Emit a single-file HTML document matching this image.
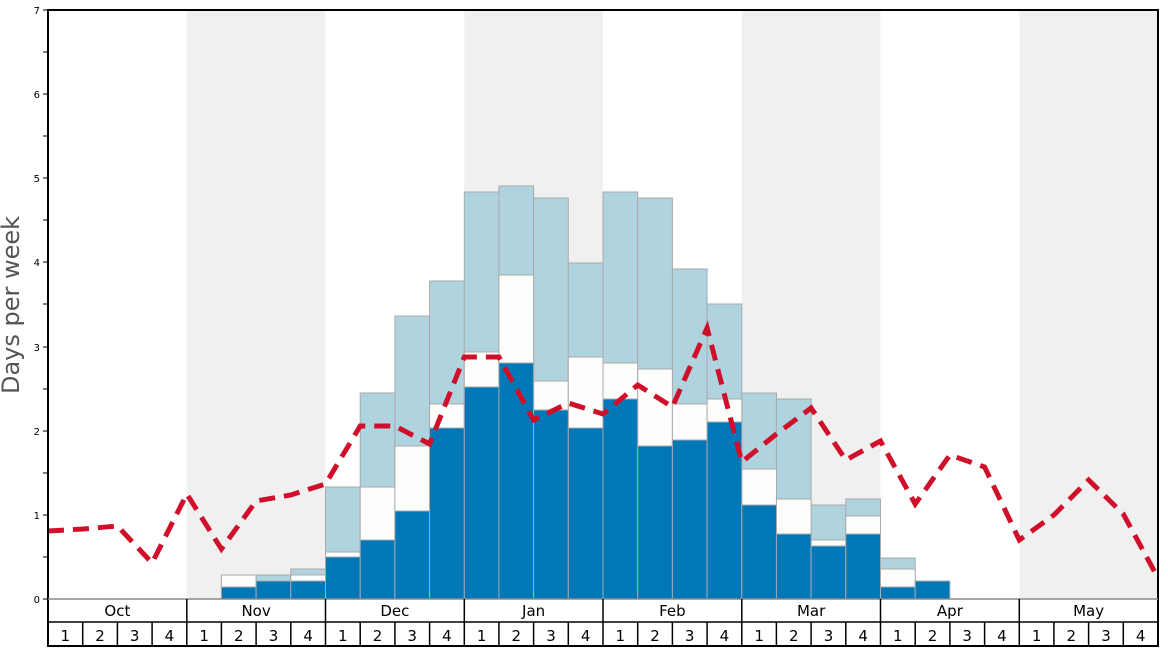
<!DOCTYPE html>
<html><head><meta charset="utf-8"><style>body{margin:0;background:#fff}svg{display:block}text{font-family:"DejaVu Sans","Liberation Sans",sans-serif}</style></head>
<body>
<svg width="1168" height="648" viewBox="0 0 1168 648" xmlns="http://www.w3.org/2000/svg">
<rect x="0" y="0" width="1168" height="648" fill="#fff"/>
<g fill="#f0f0f0">
<rect x="186.8" y="10" width="138.7" height="589"/>
<rect x="464.3" y="10" width="138.7" height="589"/>
<rect x="741.8" y="10" width="138.7" height="589"/>
<rect x="1019.3" y="10" width="138.7" height="589"/>
</g>
<g stroke="#aaa" stroke-width="1">
<g fill="#afd3df">
<rect x="256.1" y="575" width="34.7" height="24"/>
<rect x="290.8" y="569" width="34.7" height="30"/>
<rect x="325.5" y="487" width="34.7" height="112"/>
<rect x="360.2" y="393" width="34.7" height="206"/>
<rect x="394.9" y="316" width="34.7" height="283"/>
<rect x="429.6" y="281" width="34.7" height="318"/>
<rect x="464.3" y="192" width="34.7" height="407"/>
<rect x="498.9" y="186" width="34.7" height="413"/>
<rect x="533.6" y="198" width="34.7" height="401"/>
<rect x="568.3" y="263" width="34.7" height="336"/>
<rect x="603" y="192" width="34.7" height="407"/>
<rect x="637.7" y="198" width="34.7" height="401"/>
<rect x="672.4" y="269" width="34.7" height="330"/>
<rect x="707.1" y="304" width="34.7" height="295"/>
<rect x="741.8" y="393" width="34.7" height="206"/>
<rect x="776.4" y="399" width="34.7" height="200"/>
<rect x="811.1" y="505" width="34.7" height="94"/>
<rect x="845.8" y="499" width="34.7" height="100"/>
<rect x="880.5" y="558" width="34.7" height="41"/>
</g>
<g fill="#fdfdfb">
<rect x="221.4" y="575" width="34.7" height="24"/>
<rect x="290.8" y="575" width="34.7" height="24"/>
<rect x="325.5" y="552" width="34.7" height="47"/>
<rect x="360.2" y="487" width="34.7" height="112"/>
<rect x="394.9" y="446" width="34.7" height="153"/>
<rect x="429.6" y="404" width="34.7" height="195"/>
<rect x="464.3" y="352" width="34.7" height="247"/>
<rect x="498.9" y="275" width="34.7" height="324"/>
<rect x="533.6" y="381" width="34.7" height="218"/>
<rect x="568.3" y="357" width="34.7" height="242"/>
<rect x="603" y="363" width="34.7" height="236"/>
<rect x="637.7" y="369" width="34.7" height="230"/>
<rect x="672.4" y="404" width="34.7" height="195"/>
<rect x="707.1" y="399" width="34.7" height="200"/>
<rect x="741.8" y="469" width="34.7" height="130"/>
<rect x="776.4" y="499" width="34.7" height="100"/>
<rect x="811.1" y="540" width="34.7" height="59"/>
<rect x="845.8" y="516" width="34.7" height="83"/>
<rect x="880.5" y="569" width="34.7" height="30"/>
</g>
<g fill="#0077b6">
<rect x="221.4" y="587" width="34.7" height="12"/>
<rect x="256.1" y="581" width="34.7" height="18"/>
<rect x="290.8" y="581" width="34.7" height="18"/>
<rect x="325.5" y="557" width="34.7" height="42"/>
<rect x="360.2" y="540" width="34.7" height="59"/>
<rect x="394.9" y="511" width="34.7" height="88"/>
<rect x="429.6" y="428" width="34.7" height="171"/>
<rect x="464.3" y="387" width="34.7" height="212"/>
<rect x="498.9" y="363" width="34.7" height="236"/>
<rect x="533.6" y="410" width="34.7" height="189"/>
<rect x="568.3" y="428" width="34.7" height="171"/>
<rect x="603" y="399" width="34.7" height="200"/>
<rect x="637.7" y="446" width="34.7" height="153"/>
<rect x="672.4" y="440" width="34.7" height="159"/>
<rect x="707.1" y="422" width="34.7" height="177"/>
<rect x="741.8" y="505" width="34.7" height="94"/>
<rect x="776.4" y="534" width="34.7" height="65"/>
<rect x="811.1" y="546" width="34.7" height="53"/>
<rect x="845.8" y="534" width="34.7" height="65"/>
<rect x="880.5" y="587" width="34.7" height="12"/>
<rect x="915.2" y="581" width="34.7" height="18"/>
</g>
</g>
<polyline fill="none" stroke="#d0102a" stroke-width="5" stroke-dasharray="16,9"
points="48,531 82.7,529 117.4,526 152.1,563 186.8,494 221.4,549 256.1,501 290.8,495 325.5,484 360.2,426 394.9,426 429.6,444 464.3,357 498.9,357 533.6,420 568.3,403 603,414 637.7,385 672.4,407 707.1,328 741.8,462 776.4,434 811.1,408 845.8,460 880.5,441 915.2,504 949.9,455 984.6,467 1019.3,540 1053.9,515 1088.6,480 1123.3,514 1158,578"/>
<rect x="48" y="10" width="1110" height="636" fill="none" stroke="#000" stroke-width="2"/>
<line x1="48" y1="599" x2="1158" y2="599" stroke="#888" stroke-width="1.5"/>
<line x1="48" y1="622" x2="1158" y2="622" stroke="#000" stroke-width="1.5"/>
<g stroke="#000" stroke-width="1.5">
<line x1="186.8" y1="599" x2="186.8" y2="646"/><line x1="325.5" y1="599" x2="325.5" y2="646"/>
<line x1="464.3" y1="599" x2="464.3" y2="646"/><line x1="603" y1="599" x2="603" y2="646"/>
<line x1="741.8" y1="599" x2="741.8" y2="646"/><line x1="880.5" y1="599" x2="880.5" y2="646"/>
<line x1="1019.3" y1="599" x2="1019.3" y2="646"/>
<line x1="82.7" y1="622" x2="82.7" y2="646"/><line x1="117.4" y1="622" x2="117.4" y2="646"/><line x1="152.1" y1="622" x2="152.1" y2="646"/>
<line x1="221.4" y1="622" x2="221.4" y2="646"/><line x1="256.1" y1="622" x2="256.1" y2="646"/><line x1="290.8" y1="622" x2="290.8" y2="646"/>
<line x1="360.2" y1="622" x2="360.2" y2="646"/><line x1="394.9" y1="622" x2="394.9" y2="646"/><line x1="429.6" y1="622" x2="429.6" y2="646"/>
<line x1="498.9" y1="622" x2="498.9" y2="646"/><line x1="533.6" y1="622" x2="533.6" y2="646"/><line x1="568.3" y1="622" x2="568.3" y2="646"/>
<line x1="637.7" y1="622" x2="637.7" y2="646"/><line x1="672.4" y1="622" x2="672.4" y2="646"/><line x1="707.1" y1="622" x2="707.1" y2="646"/>
<line x1="776.4" y1="622" x2="776.4" y2="646"/><line x1="811.1" y1="622" x2="811.1" y2="646"/><line x1="845.8" y1="622" x2="845.8" y2="646"/>
<line x1="915.2" y1="622" x2="915.2" y2="646"/><line x1="949.9" y1="622" x2="949.9" y2="646"/><line x1="984.6" y1="622" x2="984.6" y2="646"/>
<line x1="1053.9" y1="622" x2="1053.9" y2="646"/><line x1="1088.6" y1="622" x2="1088.6" y2="646"/><line x1="1123.3" y1="622" x2="1123.3" y2="646"/>
</g>
<g font-size="15" fill="#000" text-anchor="middle">
<text x="117.4" y="616">Oct</text><text x="256.1" y="616">Nov</text><text x="394.9" y="616">Dec</text><text x="533.6" y="616">Jan</text>
<text x="672.4" y="616">Feb</text><text x="811.1" y="616">Mar</text><text x="949.9" y="616">Apr</text><text x="1088.6" y="616">May</text>
</g>
<g font-size="15" fill="#000" text-anchor="middle">
<text x="65.3" y="641">1</text><text x="100" y="641">2</text><text x="134.7" y="641">3</text><text x="169.4" y="641">4</text>
<text x="204.1" y="641">1</text><text x="238.8" y="641">2</text><text x="273.5" y="641">3</text><text x="308.1" y="641">4</text>
<text x="342.8" y="641">1</text><text x="377.5" y="641">2</text><text x="412.2" y="641">3</text><text x="446.9" y="641">4</text>
<text x="481.6" y="641">1</text><text x="516.3" y="641">2</text><text x="551" y="641">3</text><text x="585.6" y="641">4</text>
<text x="620.3" y="641">1</text><text x="655" y="641">2</text><text x="689.7" y="641">3</text><text x="724.4" y="641">4</text>
<text x="759.1" y="641">1</text><text x="793.8" y="641">2</text><text x="828.5" y="641">3</text><text x="863.1" y="641">4</text>
<text x="897.8" y="641">1</text><text x="932.5" y="641">2</text><text x="967.2" y="641">3</text><text x="1001.9" y="641">4</text>
<text x="1036.6" y="641">1</text><text x="1071.3" y="641">2</text><text x="1106" y="641">3</text><text x="1140.7" y="641">4</text>
</g>
<g stroke="#000" stroke-width="1">
<line x1="43" y1="10" x2="48" y2="10"/><line x1="43" y1="52" x2="48" y2="52"/><line x1="43" y1="94" x2="48" y2="94"/><line x1="43" y1="136" x2="48" y2="136"/>
<line x1="43" y1="178" x2="48" y2="178"/><line x1="43" y1="220" x2="48" y2="220"/><line x1="43" y1="262" x2="48" y2="262"/><line x1="43" y1="304" x2="48" y2="304"/>
<line x1="43" y1="347" x2="48" y2="347"/><line x1="43" y1="389" x2="48" y2="389"/><line x1="43" y1="431" x2="48" y2="431"/><line x1="43" y1="473" x2="48" y2="473"/>
<line x1="43" y1="515" x2="48" y2="515"/><line x1="43" y1="557" x2="48" y2="557"/><line x1="43" y1="599" x2="48" y2="599"/>
</g>
<g font-size="10" fill="#000" text-anchor="end">
<text x="40" y="14">7</text><text x="40" y="98">6</text><text x="40" y="182">5</text><text x="40" y="266">4</text>
<text x="40" y="351">3</text><text x="40" y="435">2</text><text x="40" y="519">1</text><text x="40" y="603">0</text>
</g>
<text transform="translate(19,305) rotate(-90)" font-size="24" fill="#555" text-anchor="middle">Days per week</text>
</svg>
</body></html>
